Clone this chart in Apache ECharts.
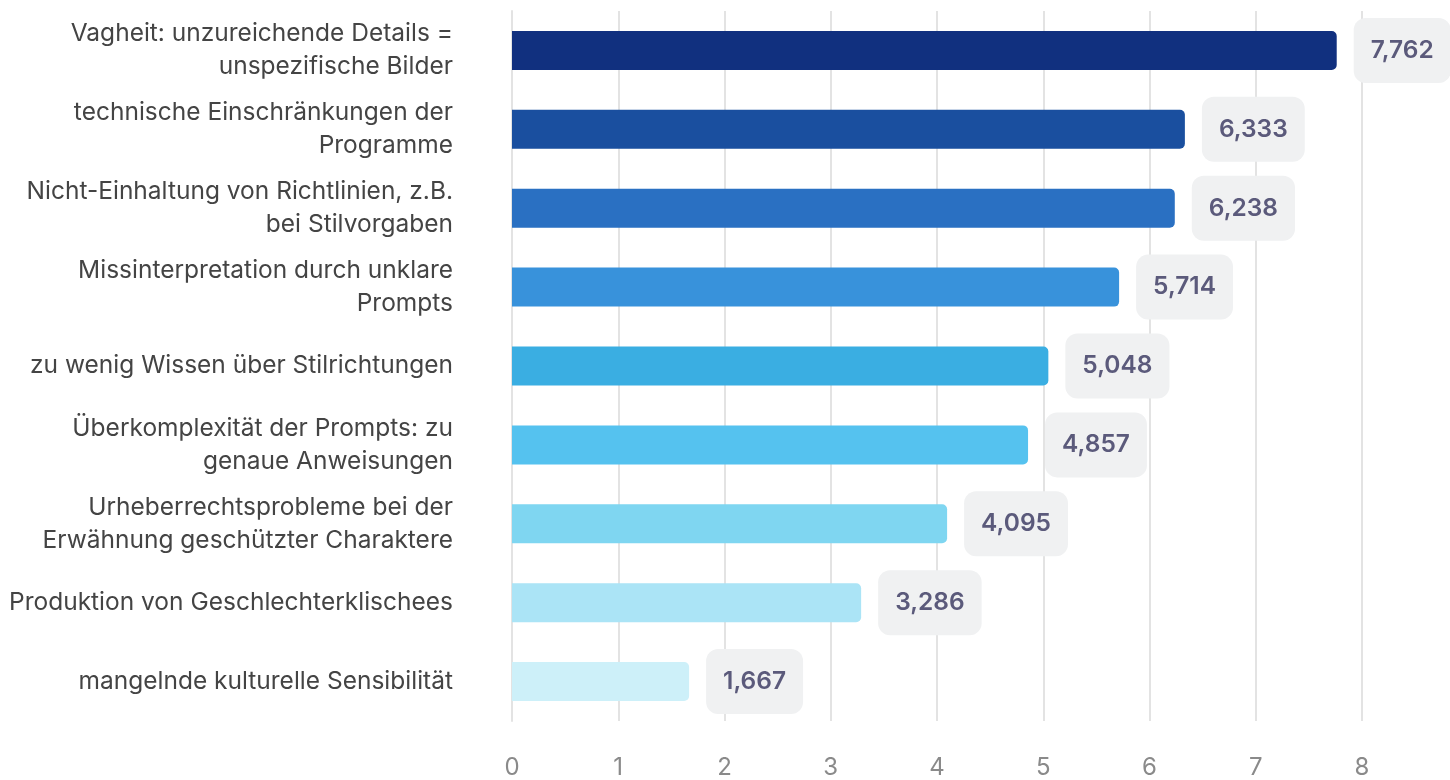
<!DOCTYPE html>
<html><head><meta charset="utf-8">
<script src="https://cdn.jsdelivr.net/npm/echarts@6/dist/echarts.min.js"></script>
<style>html,body{margin:0;padding:0;background:#fff}#c{width:1450px;height:780px}</style>
</head><body><div id="c"></div>
<script>
const categories = [
  "Vagheit: unzureichende Details =\nunspezifische Bilder",
  "technische Einschränkungen der\nProgramme",
  "Nicht-Einhaltung von Richtlinien, z.B.\nbei Stilvorgaben",
  "Missinterpretation durch unklare\nPrompts",
  "zu wenig Wissen über Stilrichtungen",
  "Überkomplexität der Prompts: zu\ngenaue Anweisungen",
  "Urheberrechtsprobleme bei der\nErwähnung geschützter Charaktere",
  "Produktion von Geschlechterklischees",
  "mangelnde kulturelle Sensibilität"
];
const values = [7.762, 6.333, 6.238, 5.714, 5.048, 4.857, 4.095, 3.286, 1.667];
const colors = ["#11307f","#1a4f9f","#2a70c2","#3892db","#3aaee2","#55c2ef","#7fd6f1","#abe4f6","#cdf0f9"];
const xTicks = [0,1,2,3,4,5,6,7,8];

const chart = echarts.init(document.getElementById('c'));
chart.setOption({
  animation:false,
  textStyle:{fontFamily:'Inter'},
  grid:{left:512,right:88,top:11,bottom:56,containLabel:false},
  xAxis:{type:'value',min:xTicks[0],max:xTicks[xTicks.length-1],interval:1,
    axisLine:{show:false},axisTick:{show:false},
    splitLine:{lineStyle:{color:'#e3e3e3',width:2}},
    axisLabel:{color:'#8a8a8a',fontSize:24,margin:35,fontFamily:'Inter'}},
  yAxis:{type:'category',data:categories,inverse:true,
    axisLine:{show:true,lineStyle:{color:'#e3e3e3',width:2}},axisTick:{show:false},
    axisLabel:{color:'#444',fontSize:24.5,lineHeight:33,margin:59,align:'right',fontFamily:'Inter'}},
  series:[{type:'bar',barWidth:39,
    data:values.map((v,i)=>({value:v,itemStyle:{color:colors[i]}})),
    itemStyle:{borderRadius:[0,5,5,0]},
    label:{show:true,position:'right',distance:17,
      formatter:p=>p.value.toFixed(3).replace('.',','),
      color:'#5b5a7b',fontSize:24.5,fontWeight:600,fontFamily:'Inter',
      backgroundColor:'#f0f1f2',borderRadius:12,padding:[20,17,20,17]}
  }]
});
</script></body></html>
